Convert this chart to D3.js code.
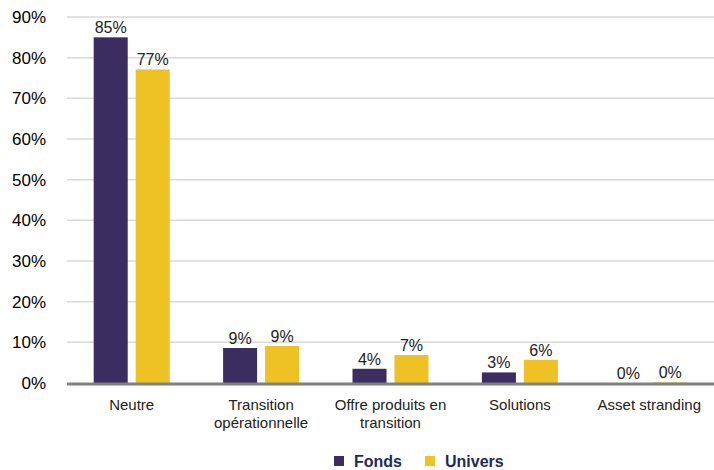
<!DOCTYPE html>
<html>
<head>
<meta charset="utf-8">
<script src="https://cdn.jsdelivr.net/npm/d3@7"></script>
<style>
  body { margin: 0; background: #fff; }
  svg { display: block; font-family: "Liberation Sans", Arial, sans-serif; }
</style>
</head>
<body>
<svg id="chart" width="714" height="470"></svg>
<script>
// data
var categories = ["Neutre", "Transition\nopérationnelle", "Offre produits en\ntransition", "Solutions", "Asset stranding"];
var fonds = [85.0, 8.6, 3.5, 2.6, 0];
var univers = [77.1, 9.1, 6.9, 5.7, 0.15];
var fondsLabels = ["85%", "9%", "4%", "3%", "0%"];
var universLabels = ["77%", "9%", "7%", "6%", "0%"];
var yTicks = [0, 10, 20, 30, 40, 50, 60, 70, 80, 90];
var seriesNames = ["Fonds", "Univers"];
var colors = ["#3b2d60", "#eec124"];

var svg = d3.select("#chart");
var plotLeft = 67, plotRight = 714, plotTop = 17, plotBottom = 383;

var x = d3.scaleBand().domain(categories).range([plotLeft, plotRight]);
var y = d3.scaleLinear().domain([0, 90]).range([plotBottom, plotTop]);
var inner = d3.scaleBand().domain(seriesNames).range([0, 76]).paddingInner(0.19);

// gridlines
svg.append("g")
  .selectAll("line")
  .data(yTicks.slice(1))
  .join("line")
  .attr("x1", plotLeft).attr("x2", plotRight)
  .attr("y1", function(d) { return y(d); })
  .attr("y2", function(d) { return y(d); })
  .attr("stroke", "#d9d9d9")
  .attr("stroke-width", 1.5);

// y tick labels
svg.append("g")
  .selectAll("text")
  .data(yTicks)
  .join("text")
  .attr("x", 46)
  .attr("y", function(d) { return y(d); })
  .attr("dy", "0.35em")
  .attr("text-anchor", "end")
  .attr("font-size", 17)
  .attr("fill", "#000")
  .text(function(d) { return d + "%"; });

var series = [
  { name: "Fonds", values: fonds, labels: fondsLabels },
  { name: "Univers", values: univers, labels: universLabels }
];

series.forEach(function(s, si) {
  var g = svg.append("g");
  g.selectAll("rect")
    .data(categories)
    .join("rect")
    .attr("x", function(c) { return x(c) + x.bandwidth() / 2 - 38 + inner(s.name); })
    .attr("y", function(c, i) { return y(s.values[i]); })
    .attr("width", inner.bandwidth())
    .attr("height", function(c, i) { return y(0) - y(s.values[i]); })
    .attr("fill", colors[si]);
  g.selectAll("text")
    .data(categories)
    .join("text")
    .attr("x", function(c) { return x(c) + x.bandwidth() / 2 - 38 + inner(s.name) + inner.bandwidth() / 2; })
    .attr("y", function(c, i) { return y(s.values[i]) - 4; })
    .attr("text-anchor", "middle")
    .attr("font-size", 16)
    .attr("fill", "#222")
    .text(function(c, i) { return s.labels[i]; });
});

// baseline
svg.append("line")
  .attr("x1", plotLeft).attr("x2", plotRight)
  .attr("y1", y(0) + 1).attr("y2", y(0) + 1)
  .attr("stroke", "#808080")
  .attr("stroke-width", 3);

// category labels
var cat = svg.append("g")
  .selectAll("text")
  .data(categories)
  .join("text")
  .attr("x", function(c) { return x(c) + x.bandwidth() / 2; })
  .attr("y", 410)
  .attr("text-anchor", "middle")
  .attr("font-size", 15)
  .attr("fill", "#222");
cat.each(function(c) {
  var t = d3.select(this);
  c.split("\n").forEach(function(line, i) {
    t.append("tspan")
      .attr("x", x(c) + x.bandwidth() / 2)
      .attr("dy", i == 0 ? 0 : 18)
      .text(line);
  });
});

// legend
var legendX = [334, 425];
var legend = svg.append("g");
seriesNames.forEach(function(n, i) {
  legend.append("rect")
    .attr("x", legendX[i]).attr("y", 456)
    .attr("width", 10).attr("height", 10)
    .attr("fill", colors[i]);
  legend.append("text")
    .attr("x", legendX[i] + 20).attr("y", 467)
    .attr("font-size", 16)
    .attr("font-weight", "bold")
    .attr("fill", "#1f2a5c")
    .text(n);
});
</script>
</body>
</html>
